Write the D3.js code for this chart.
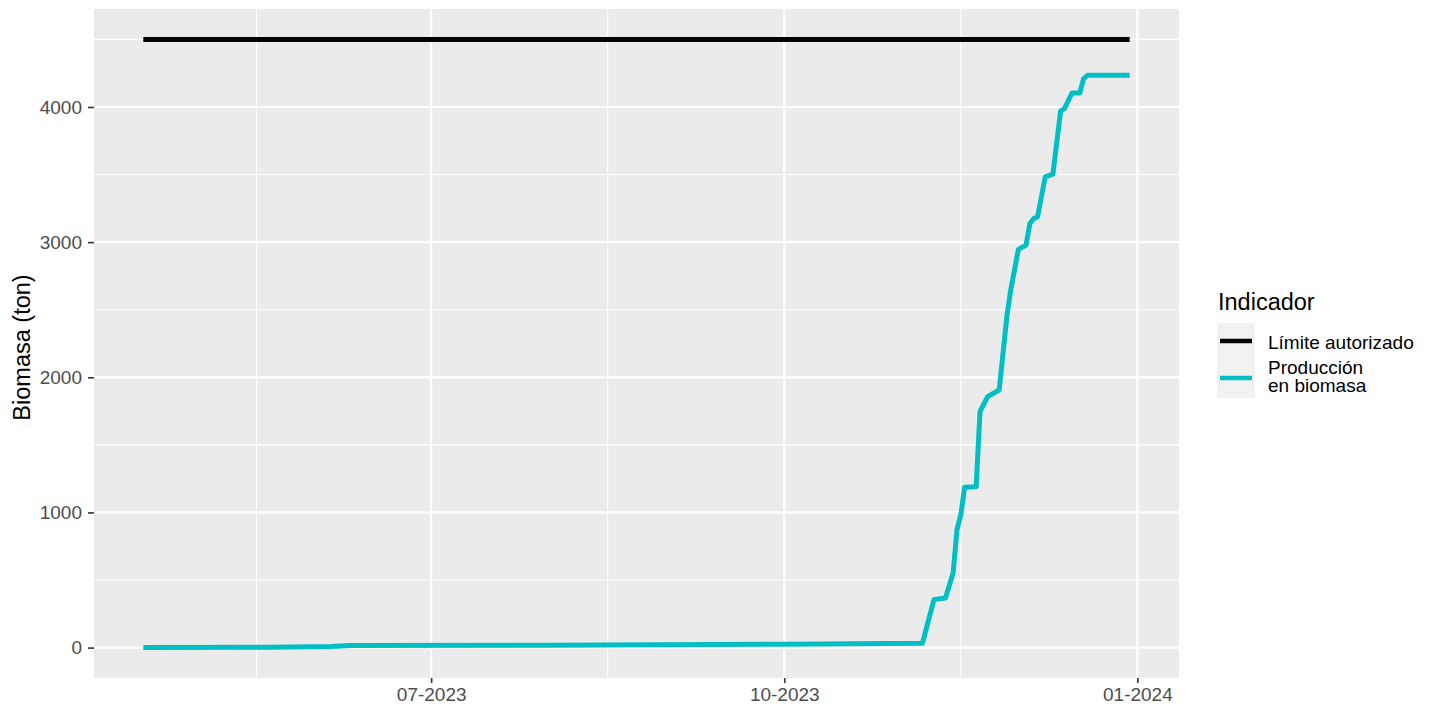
<!DOCTYPE html>
<html>
<head>
<meta charset="utf-8">
<script src="https://cdn.jsdelivr.net/npm/d3@7"></script>
<style>
  body { margin: 0; background: #fff; }
  svg text { font-family: "Liberation Sans", Arial, sans-serif; }
</style>
</head>
<body>
<div id="canvas"></div>
<script>
// production in biomass (ton)
const dates = ["2023-04-17", "2023-05-20", "2023-06-05", "2023-06-10", "2023-08-01", "2023-10-01",
  "2023-11-06", "2023-11-09", "2023-11-12", "2023-11-14", "2023-11-15", "2023-11-16", "2023-11-17",
  "2023-11-20", "2023-11-21", "2023-11-23", "2023-11-26", "2023-11-28", "2023-11-29", "2023-12-01",
  "2023-12-03", "2023-12-04", "2023-12-05", "2023-12-06", "2023-12-08", "2023-12-10", "2023-12-12",
  "2023-12-13", "2023-12-15", "2023-12-17", "2023-12-18", "2023-12-19", "2023-12-30"];
const produccion = [0, 2, 8, 15, 18, 25,
  32, 355, 367, 552, 872, 983, 1187,
  1190, 1746, 1857, 1906, 2450, 2645, 2946,
  2978, 3138, 3175, 3187, 3483, 3503, 3970,
  3988, 4104, 4104, 4210, 4234, 4234];
const limite = 4500;
const seriesNames = ["Límite autorizado", "Producción\nen biomasa"];
const seriesColors = ["#000000", "#00BFC4"];
const xTicks = ["2023-07-01", "2023-10-01", "2024-01-01"];
const yTicks = [0, 1000, 2000, 3000, 4000];

const W = 1434, H = 706;
const pLeft = 94, pRight = 1179, pTop = 9, pBottom = 678;
const parse = d3.utcParse("%Y-%m-%d");

const svg = d3.select("#canvas").append("svg").attr("width", W).attr("height", H);

const dt = dates.map(parse);
const x0 = dt[0], x1 = dt[dt.length - 1];
const span = x1 - x0;
const x = d3.scaleUtc()
  .domain([new Date(+x0 - span * 0.05), new Date(+x1 + span * 0.05)])
  .range([pLeft, pRight]);
const yMax = limite, yMin = 0;
const yPad = (yMax - yMin) * 0.05;
const y = d3.scaleLinear().domain([yMin - yPad, yMax + yPad]).range([pBottom, pTop]);

// panel
svg.append("rect").attr("x", pLeft).attr("y", pTop)
  .attr("width", pRight - pLeft).attr("height", pBottom - pTop).attr("fill", "#EBEBEB");

// minor grid
const xMaj = xTicks.map(parse);
const xAll = [d3.utcMonth.offset(xMaj[0], -3)].concat(xMaj);
const xMinor = d3.pairs(xAll).map(p => new Date((+p[0] + +p[1]) / 2));
const yMinor = d3.range(500, 5000, 1000);
svg.append("g").selectAll("line").data(yMinor).join("line")
  .attr("x1", pLeft).attr("x2", pRight)
  .attr("y1", d => y(d)).attr("y2", d => y(d))
  .attr("stroke", "#fff").attr("stroke-width", 1.1);
svg.append("g").selectAll("line").data(xMinor).join("line")
  .attr("x1", d => x(d)).attr("x2", d => x(d))
  .attr("y1", pTop).attr("y2", pBottom)
  .attr("stroke", "#fff").attr("stroke-width", 1.1);

// major grid
svg.append("g").selectAll("line").data(yTicks).join("line")
  .attr("x1", pLeft).attr("x2", pRight)
  .attr("y1", d => y(d)).attr("y2", d => y(d))
  .attr("stroke", "#fff").attr("stroke-width", 2.2);
svg.append("g").selectAll("line").data(xMaj).join("line")
  .attr("x1", d => x(d)).attr("x2", d => x(d))
  .attr("y1", pTop).attr("y2", pBottom)
  .attr("stroke", "#fff").attr("stroke-width", 2.2);

// axes
const xAxis = svg.append("g").attr("transform", `translate(0,${pBottom})`)
  .call(d3.axisBottom(x).tickValues(xMaj).tickFormat(d3.utcFormat("%m-%Y")).tickSize(5).tickPadding(5));
const yAxis = svg.append("g").attr("transform", `translate(${pLeft},0)`)
  .call(d3.axisLeft(y).tickValues(yTicks).tickFormat(d3.format("d")).tickSize(6).tickPadding(6));
[xAxis, yAxis].forEach(a => {
  a.select(".domain").remove();
  a.selectAll(".tick line").attr("stroke", "#333").attr("stroke-width", 1.6);
  a.selectAll(".tick text").attr("fill", "#4D4D4D").style("font-size", "19px");
});

svg.append("text")
  .attr("transform", `translate(30,${(pTop + pBottom) / 2 + 4}) rotate(-90)`)
  .attr("text-anchor", "middle").style("font-size", "23.5px").attr("fill", "#000")
  .text("Biomasa (ton)");

// lines
const line = d3.line().x(d => x(d[0])).y(d => y(d[1]));
svg.append("path").datum([[x0, limite], [x1, limite]])
  .attr("d", line).attr("fill", "none")
  .attr("stroke", seriesColors[0]).attr("stroke-width", 5);
svg.append("path").datum(dt.map((d, i) => [d, produccion[i]]))
  .attr("d", line).attr("fill", "none")
  .attr("stroke", seriesColors[1]).attr("stroke-width", 5)
  .attr("stroke-linejoin", "round");

// legend
const lg = svg.append("g").attr("transform", "translate(1217,0)");
lg.append("text").attr("x", 1).attr("y", 310).style("font-size", "23.5px").text("Indicador");
const keyY = [323, 358], keyH = [35, 40];
seriesNames.forEach((name, i) => {
  lg.append("rect").attr("x", 0).attr("y", keyY[i]).attr("width", 38).attr("height", keyH[i])
    .attr("fill", "#F2F2F2");
  const cy = i === 0 ? 341 : 378;
  lg.append("line").attr("x1", 3).attr("x2", 35).attr("y1", cy).attr("y2", cy)
    .attr("stroke", seriesColors[i]).attr("stroke-width", 4.5);
  const parts = name.split("\n");
  const y0 = i === 0 ? 349 : 373.5;
  parts.forEach((p, j) => lg.append("text").attr("x", 51).attr("y", y0 + j * 18.5)
    .style("font-size", "19px").text(p));
});
</script>
</body>
</html>
